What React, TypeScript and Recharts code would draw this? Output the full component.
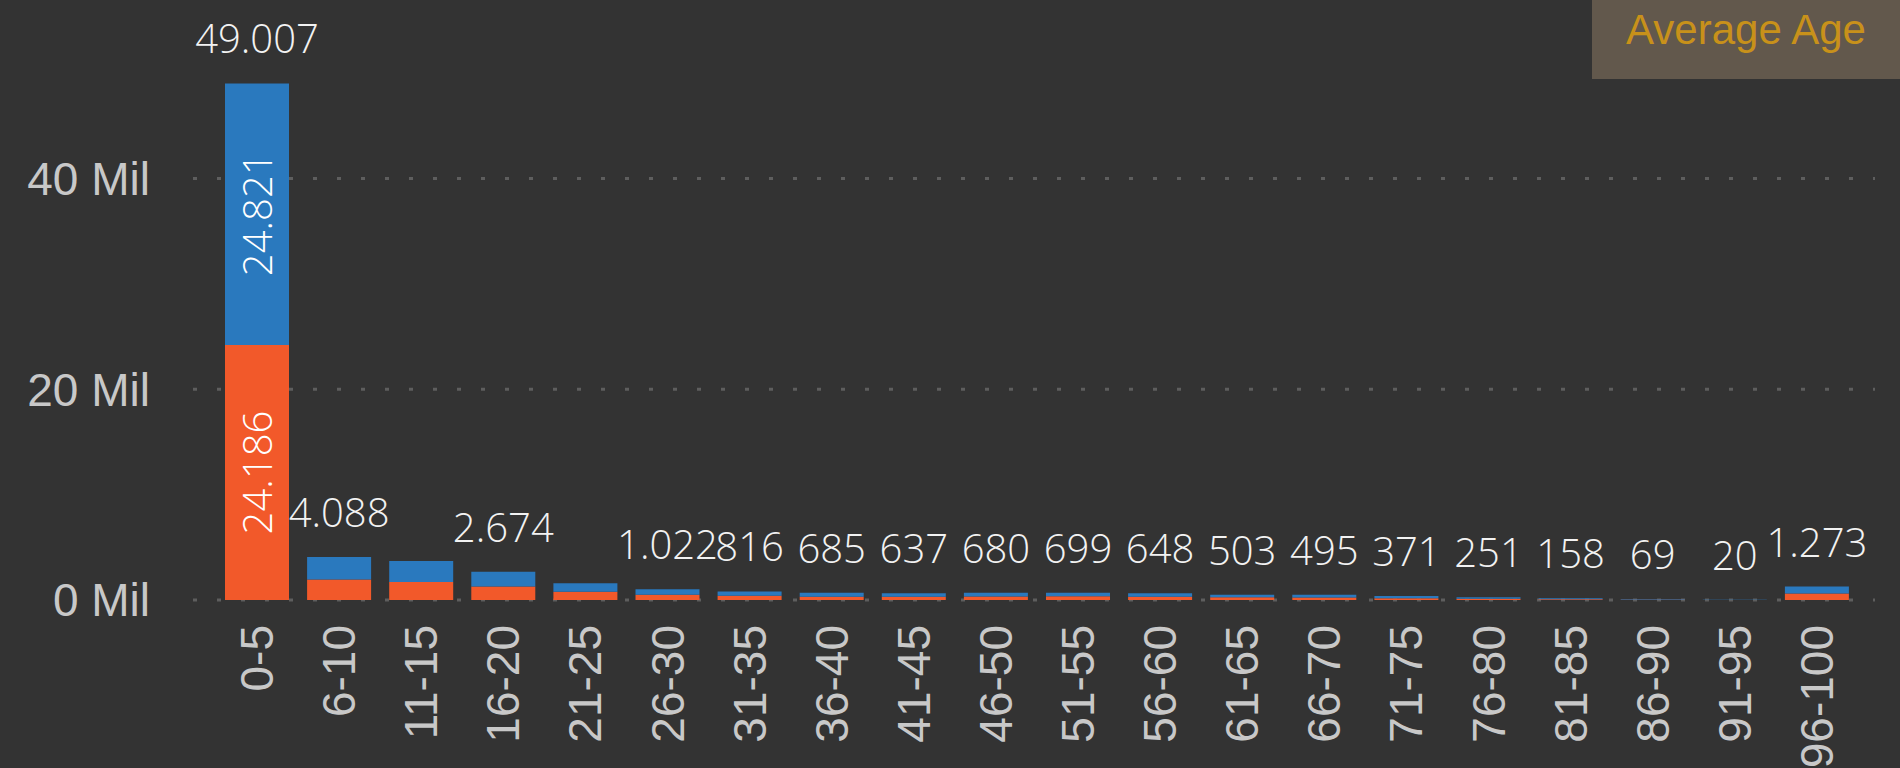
import { BarChart, Bar, XAxis, YAxis, CartesianGrid, LabelList } from "recharts";

const ageGroups = [
  "0-5", "6-10", "11-15", "16-20", "21-25", "26-30", "31-35", "36-40", "41-45", "46-50",
  "51-55", "56-60", "61-65", "66-70", "71-75", "76-80", "81-85", "86-90", "91-95", "96-100"
];

// values in thousands
const orangeValues = [24186, 1950, 1700, 1290, 780, 500, 400, 320, 300, 330, 360, 320, 250, 240, 170, 110, 70, 25, 8, 620];
const blueValues = [24821, 2138, 2000, 1384, 820, 522, 416, 365, 337, 350, 339, 328, 253, 255, 201, 141, 88, 44, 12, 653];

// total labels Power BI dropped because they collide with neighbours
const hiddenTotals = ["11-15", "21-25"];

const yTicks = [0, 20000, 40000];

const data = ageGroups.map((group, i) => ({
  group,
  orange: orangeValues[i],
  blue: blueValues[i],
  total: orangeValues[i] + blueValues[i],
}));

const BG = "#333333";
const BLUE = "#2A79BE";
const ORANGE = "#F2592A";
const AXIS_TEXT = "#c8c8c8";
const LABEL_FONT = "'Segoe UI Light', 'Open Sans', sans-serif";

function fmt(v: number) {
  const s = String(Math.round(v));
  return s.replace(/\B(?=(\d{3})+(?!\d))/g, ".");
}

function box(props: any) {
  const vb = props.viewBox || {};
  return {
    x: props.x ?? vb.x,
    y: props.y ?? vb.y,
    width: props.width ?? vb.width,
    height: props.height ?? vb.height,
  };
}

function TotalLabel(props: any) {
  const { x, y, width } = box(props);
  const row = data[props.index];
  if (!row || hiddenTotals.includes(row.group)) return null;
  return (
    <text
      x={x + width / 2}
      y={y - 30}
      textAnchor="middle"
      fill="#f2f2f2"
      fontFamily={LABEL_FONT}
      fontWeight={300}
      fontSize={40}
    >
      {fmt(row.total)}
    </text>
  );
}

function InsideLabel(props: any) {
  const { x, y, width, height } = box(props);
  if (!(height > 130)) return null;
  const cx = x + width / 2;
  const cy = y + height / 2;
  return (
    <text
      x={cx}
      y={cy}
      transform={`rotate(-90, ${cx}, ${cy})`}
      textAnchor="middle"
      dominantBaseline="central"
      fill="#ffffff"
      fontFamily={LABEL_FONT}
      fontWeight={300}
      fontSize={40}
    >
      {fmt(props.value)}
    </text>
  );
}

function AgeTick(props: any) {
  const { x, y, payload } = props;
  const ty = y + 25;
  return (
    <text
      x={x}
      y={ty}
      transform={`rotate(-90, ${x}, ${ty})`}
      textAnchor="end"
      dominantBaseline="central"
      fill={AXIS_TEXT}
      fontFamily="'Liberation Sans', Arial, sans-serif"
      fontSize={46}
    >
      {payload.value}
    </text>
  );
}

export default function App() {
  return (
    <div style={{ position: "fixed", left: 0, top: 0, width: 1900, height: 768, background: BG, overflow: "hidden" }}>
      <BarChart
        width={1900}
        height={768}
        data={data}
        margin={{ top: 73, right: 25, bottom: 0, left: 0 }}
      >
        <CartesianGrid
          vertical={false}
          horizontalValues={yTicks}
          stroke="#5e5e5e"
          strokeWidth={3}
          strokeDasharray="4 20"
        />
        <XAxis
          dataKey="group"
          interval={0}
          height={168}
          axisLine={false}
          tickLine={false}
          tickSize={0}
          tickMargin={0}
          padding={{ left: 23, right: 17 }}
          tick={<AgeTick />}
        />
        <YAxis
          width={193}
          domain={[0, 50000]}
          ticks={yTicks}
          axisLine={false}
          tickLine={false}
          tickSize={0}
          tickMargin={43}
          tick={{ fill: AXIS_TEXT, fontSize: 46, fontFamily: "'Liberation Sans', Arial, sans-serif" }}
          tickFormatter={(v: number) => `${v / 1000} Mil`}
        />
        <Bar dataKey="orange" stackId="a" fill={ORANGE} barSize={64} isAnimationActive={false}>
          <LabelList dataKey="orange" content={<InsideLabel />} />
        </Bar>
        <Bar dataKey="blue" stackId="a" fill={BLUE} barSize={64} isAnimationActive={false}>
          <LabelList dataKey="blue" content={<InsideLabel />} />
          <LabelList dataKey="total" content={<TotalLabel />} />
        </Bar>
      </BarChart>
      <svg
        width={308}
        height={79}
        style={{ position: "absolute", left: 1592, top: 0 }}
      >
        <rect x={0} y={0} width={308} height={79} fill="#62584c" />
        <text
          x={154}
          y={44}
          textAnchor="middle"
          fill="#c8911a"
          fontFamily="'Liberation Sans', Arial, sans-serif"
          fontSize={42}
        >
          Average Age
        </text>
      </svg>
    </div>
  );
}
